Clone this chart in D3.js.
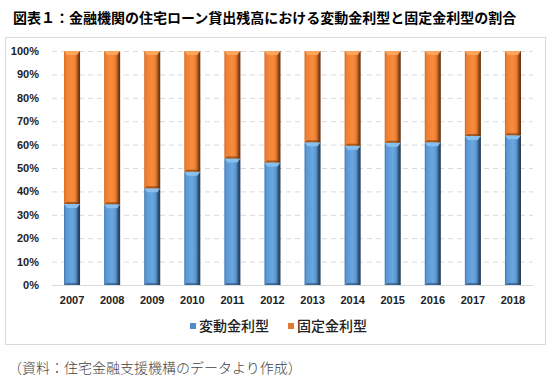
<!DOCTYPE html>
<html><head><meta charset="utf-8">
<script src="https://cdn.jsdelivr.net/npm/d3@7/dist/d3.min.js"></script>
<style>
html,body{margin:0;padding:0;background:#fff;}
svg{display:block;}
</style></head>
<body>
<svg id="c" width="550" height="379"></svg>
<script>
const years = ["2007","2008","2009","2010","2011","2012","2013","2014","2015","2016","2017","2018"];
const variableRate = [34.6, 34.5, 41.3, 48.4, 54.1, 52.4, 61.0, 59.5, 60.8, 61.0, 63.7, 64.0];
const fixedRate = variableRate.map(v => 100 - v);
const yTicks = [0,10,20,30,40,50,60,70,80,90,100];
const seriesNames = ["変動金利型","固定金利型"];
const titleText = "図表１：金融機関の住宅ローン貸出残高における変動金利型と固定金利型の割合";
const sourceText = "（資料：住宅金融支援機構のデータより作成）";

const svg = d3.select("#c");
const defs = svg.append("defs");
function grad(id, stops){
  const g = defs.append("linearGradient").attr("id", id).attr("x1","0").attr("x2","1").attr("y1","0").attr("y2","0");
  stops.forEach(s => g.append("stop").attr("offset", s[0]).attr("stop-color", s[1]));
}
grad("gBlue", [[0,"#3f77b0"],[0.12,"#5a97d3"],[0.5,"#6aa8e2"],[0.72,"#5a96d0"],[0.86,"#34597f"],[1,"#1f3650"]]);
grad("gOrange", [[0,"#d06a25"],[0.12,"#ee7f33"],[0.5,"#f88c3c"],[0.72,"#ea7d31"],[0.86,"#9a4e1a"],[1,"#5a2c0c"]]);

// title
svg.append("text").attr("x", 13).attr("y", 23)
  .attr("font-family", "'Noto Sans CJK JP', sans-serif").attr("font-weight", "bold")
  .attr("font-size", 14).attr("fill", "#000").text(titleText);

// frame
svg.append("rect").attr("x", 5.5).attr("y", 37.5).attr("width", 540).attr("height", 307)
  .attr("fill", "none").attr("stroke", "#d9d9d9").attr("stroke-width", 1);

const m = {l: 52, r: 533, t: 51, b: 285};
const x = d3.scaleBand().domain(years).range([m.l, m.r]).paddingInner(0.6).paddingOuter(0.3);
const y = d3.scaleLinear().domain([0, 100]).range([m.b, m.t]);

// gridlines
svg.append("g").selectAll("line").data(yTicks.filter(d => d > 0)).join("line")
  .attr("x1", m.l).attr("x2", m.r).attr("y1", d => y(d) + 0.5).attr("y2", d => y(d) + 0.5)
  .attr("stroke", "#d9d9d9").attr("stroke-dasharray", "5,4").attr("stroke-width", 1);

// y axis
const yAxis = d3.axisLeft(y).tickValues(yTicks).tickFormat(d => d + "%").tickSize(0).tickPadding(13);
const yg = svg.append("g").attr("transform", `translate(${m.l},0)`).call(yAxis);
yg.select(".domain").remove();
yg.selectAll("text").attr("font-family", "'Liberation Sans', Arial, sans-serif")
  .attr("font-weight", "bold").attr("font-size", 11).attr("fill", "#222");

// bars
const bw = x.bandwidth();
const stacks = [
  {name: seriesNames[0], vals: variableRate, base: years.map(() => 0), fill: "url(#gBlue)", cap: "#8cc4f2", edge: "#2c4d70"},
  {name: seriesNames[1], vals: fixedRate, base: variableRate, fill: "url(#gOrange)", cap: "#ffa860", edge: "#6e3a12"}
];
stacks.forEach(s => {
  const g = svg.append("g");
  years.forEach((yr, i) => {
    const x0 = x(yr), y0 = y(s.base[i] + s.vals[i]), y1 = y(s.base[i]);
    g.append("rect").attr("x", x0).attr("y", y0).attr("width", bw).attr("height", y1 - y0).attr("fill", s.fill);
    const c = Math.min(4, (y1 - y0) / 2);
    g.append("path").attr("d", `M${x0},${y0} L${x0 + bw},${y0} L${x0 + bw - 3},${y0 + c} L${x0 + 3},${y0 + c} Z`)
      .attr("fill", s.cap).attr("opacity", 0.9);
    g.append("path").attr("d", `M${x0},${y1} L${x0 + bw},${y1} L${x0 + bw - 3},${y1 - 2} L${x0 + 3},${y1 - 2} Z`)
      .attr("fill", s.edge).attr("opacity", 0.6);
  });
});

// baseline
svg.append("line").attr("x1", m.l).attr("x2", m.r).attr("y1", m.b + 0.5).attr("y2", m.b + 0.5)
  .attr("stroke", "#d9d9d9").attr("stroke-width", 1);

// x axis
const xAxis = d3.axisBottom(x).tickSize(0).tickPadding(11);
const xg = svg.append("g").attr("transform", `translate(0,${m.b})`).call(xAxis);
xg.select(".domain").remove();
xg.selectAll("text").attr("font-family", "'Liberation Sans', Arial, sans-serif")
  .attr("font-weight", "bold").attr("font-size", 11).attr("fill", "#222");

// legend
const legX = [190, 288];
const legColors = ["#4f8ccc", "#e0782f"];
seriesNames.forEach((n, i) => {
  svg.append("rect").attr("x", legX[i]).attr("y", 323).attr("width", 6).attr("height", 6).attr("fill", legColors[i]);
  svg.append("text").attr("x", legX[i] + 9).attr("y", 331)
    .attr("font-family", "'Noto Sans CJK JP', sans-serif").attr("font-size", 14).attr("font-weight", 500).attr("fill", "#222").text(n);
});

// source
svg.append("text").attr("x", 8).attr("y", 373)
  .attr("font-family", "'Noto Sans CJK JP', serif").attr("font-size", 14).attr("font-weight", 300).attr("fill", "#444").text(sourceText);
</script>
</body></html>
